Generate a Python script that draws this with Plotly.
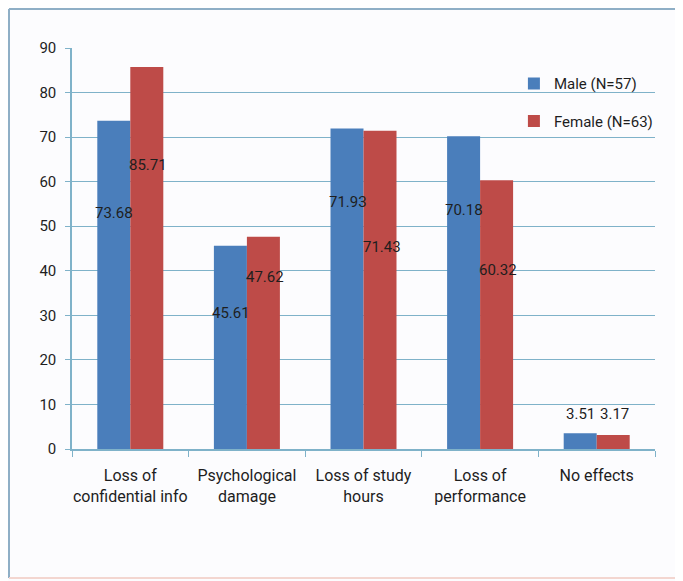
import plotly.graph_objects as go

categories = ["Loss of<br>confidential info", "Psychological<br>damage", "Loss of study<br>hours", "Loss of<br>performance", "No effects"]
male = [73.68, 45.61, 71.93, 70.18, 3.51]
female = [85.71, 47.62, 71.43, 60.32, 3.17]
male_name = "Male (N=57)"
female_name = "Female (N=63)"
y_ticks = [0, 10, 20, 30, 40, 50, 60, 70, 80, 90]

# label placement (layout constants, as in the source image)
male_label_y = [53.0, 30.5, 55.4, 53.6, 7.9]
female_label_y = [63.7, 38.6, 45.3, 40.2, 7.9]

OFF = 8  # browser body margin
W, H = 683, 581
L, R, T, B = 72 - OFF, 28 + OFF, 48 - OFF, 132 + OFF
pw, ph = W - L - R, H - T - B

BLUE = "#4A7EBB"
RED = "#BE4B48"
GRID = "#7FB2C9"
FONT = "Roboto, sans-serif"
FS = 15
TXT = "#1E1E1E"

fig = go.Figure()
fig.add_trace(go.Bar(x=categories, y=male, name=male_name, marker=dict(color=BLUE, line=dict(width=0)), legendgroup="m"))
fig.add_trace(go.Bar(x=categories, y=female, name=female_name, marker=dict(color=RED, line=dict(width=0)), legendgroup="f"))

ann = []
for i, c in enumerate(categories):
    ann.append(dict(x=c, y=male_label_y[i], text=f"{male[i]:.2f}", showarrow=False, xshift=-16, xanchor="center", yanchor="middle",
                    font=dict(family=FONT, size=FS, color=TXT)))
    ann.append(dict(x=c, y=female_label_y[i], text=f"{female[i]:.2f}", showarrow=False, xshift=18, xanchor="center", yanchor="middle",
                    font=dict(family=FONT, size=FS, color=TXT)))

def px(xp):
    return (xp - OFF - L) / pw

def py(yp):
    return (H - B - (yp - OFF)) / ph

shapes = [
    dict(type="line", xref="paper", yref="paper", x0=px(9), x1=px(700), y0=py(9), y1=py(9), line=dict(color="#8FAFC6", width=2)),
    dict(type="line", xref="paper", yref="paper", x0=px(9), x1=px(9), y0=py(9), y1=py(578), line=dict(color="#8FAFC6", width=2)),
    dict(type="line", xref="paper", yref="paper", x0=px(9), x1=px(700), y0=py(578), y1=py(578), line=dict(color="#F3D6D0", width=2)),
]

fig.update_layout(
    width=W, height=H,
    margin=dict(l=L, r=R, t=T, b=B, pad=0, autoexpand=False),
    paper_bgcolor="#FCFCFE", plot_bgcolor="rgba(0,0,0,0)",
    barmode="group", bargap=0.434, bargroupgap=0,
    font=dict(family=FONT, size=FS, color=TXT),
    showlegend=True,
    legend=dict(x=0.758, y=0.952, xanchor="left", yanchor="top", bgcolor="rgba(0,0,0,0)",
                font=dict(family=FONT, size=FS, color=TXT), tracegroupgap=15, itemwidth=30),
    annotations=ann,
    shapes=shapes,
)
fig.update_xaxes(showline=True, linecolor=GRID, linewidth=1.5, ticks="outside", ticklen=6, tickcolor=GRID,
                 tickson="boundaries", tickangle=0, showgrid=False, ticklabelstandoff=11,
                 tickfont=dict(family=FONT, size=16, color=TXT))
fig.update_yaxes(range=[0, 90], tickvals=y_ticks, showgrid=True, gridcolor=GRID, gridwidth=1.2,
                 showline=True, linecolor=GRID, linewidth=1.5, ticks="outside", ticklen=5, tickcolor=GRID,
                 zeroline=False, ticklabelstandoff=6, tickfont=dict(family=FONT, size=FS, color=TXT))

fig.write_html("out.html")
